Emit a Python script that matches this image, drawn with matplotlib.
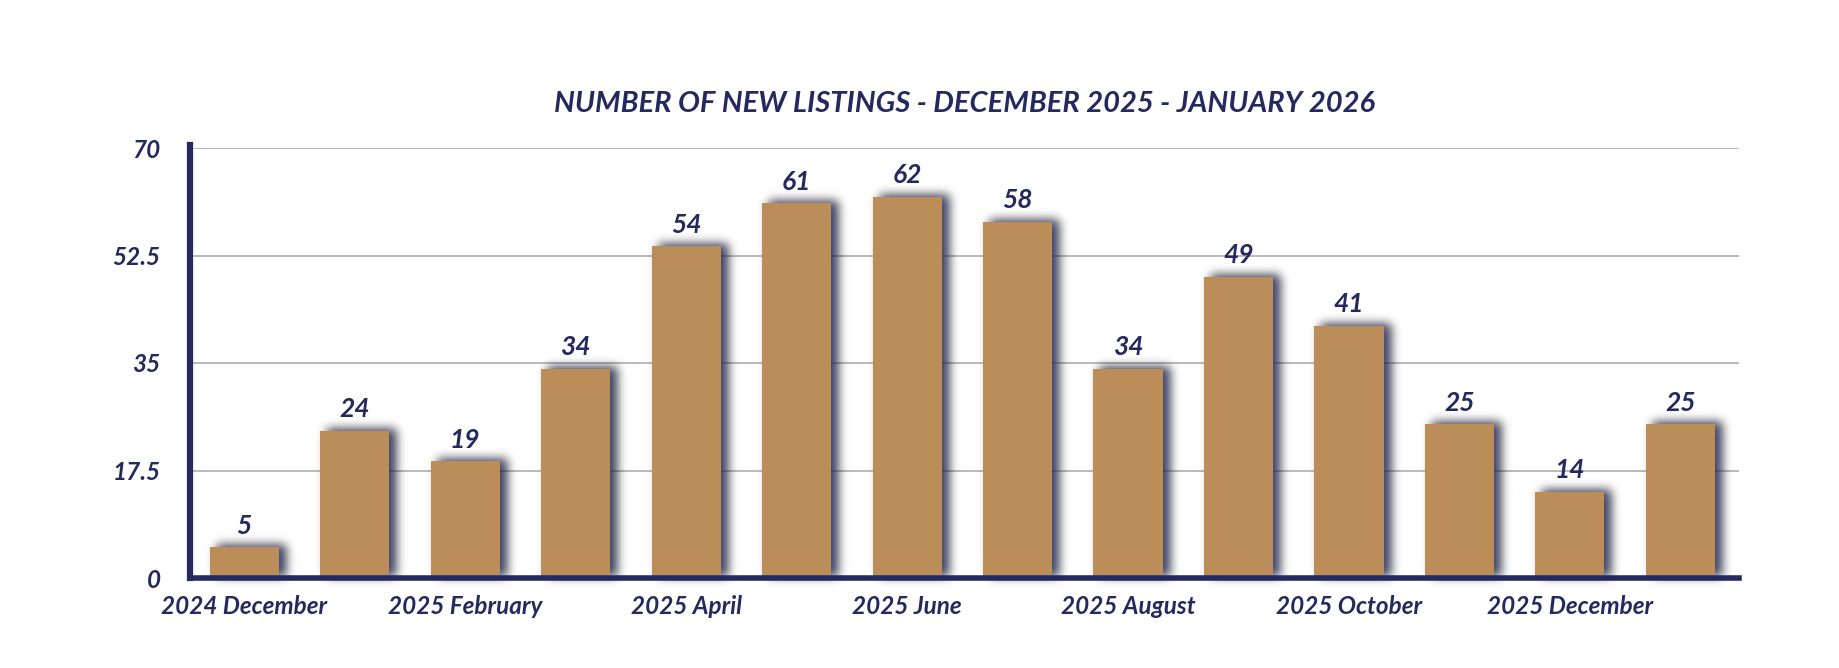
import numpy as np
import matplotlib
matplotlib.use("Agg")
import matplotlib.pyplot as plt

# data
months = ["2024 December", "2025 January", "2025 February", "2025 March",
          "2025 April", "2025 May", "2025 June", "2025 July", "2025 August",
          "2025 September", "2025 October", "2025 November", "2025 December",
          "2026 January"]
new_listings = [5, 24, 19, 34, 54, 61, 62, 58, 34, 49, 41, 25, 14, 25]
y_ticks = [0, 17.5, 35, 52.5, 70]
y_tick_labels = ["0", "17.5", "35", "52.5", "70"]

NAVY = "#252a5e"
GOLD = "#bb8e59"
GRID = "#b4b4b4"
FONT = dict(family="Lato", weight="bold", style="italic", color=NAVY)


def gauss_kernel(sigma):
    r = int(3 * sigma)
    x = np.arange(-r, r + 1)
    k = np.exp(-0.5 * (x / sigma) ** 2)
    return k / k.sum()


def shadow_filter(im, dpi, sigma=5.0, ox=7, oy=2):
    """blur the rendered shadow bars and shift them a bit right/up"""
    pad = int(3 * sigma) + 2
    out = np.pad(im, ((pad, pad), (pad, pad), (0, 0)))
    k = gauss_kernel(sigma)
    # separable blur, rows then columns
    out = np.apply_along_axis(lambda v: np.convolve(v, k, mode="same"), 0, out)
    out = np.apply_along_axis(lambda v: np.convolve(v, k, mode="same"), 1, out)
    return out, -pad + ox, -pad + oy


fig = plt.figure(figsize=(18.4, 6.68), dpi=100)
ax = fig.add_axes([190 / 1840, 1 - 578 / 668, (1739 - 190) / 1840, (578 - 148) / 668])

x = np.arange(len(months))
bar_w = 0.625

# blurred navy shadows behind each bar
shadows = ax.bar(x, new_listings, width=bar_w, color=NAVY, alpha=0.9, zorder=1)
for p in shadows:
    p.set_agg_filter(shadow_filter)
    p.set_rasterized(True)

ax.bar(x, new_listings, width=bar_w, color=GOLD, zorder=2)

for xi, v in zip(x, new_listings):
    ax.annotate(str(v), (xi, v), textcoords="offset points", xytext=(0, 7),
                ha="center", va="bottom", fontsize=19, **FONT)

ax.set_xlim(-0.49, len(months) - 1 + 0.53)
ax.set_ylim(0, 70)
ax.set_yticks(y_ticks)
ax.set_yticklabels(y_tick_labels)
ax.set_xticks(x[::2])
ax.set_xticklabels(months[::2])
for lbl in ax.get_xticklabels() + ax.get_yticklabels():
    lbl.set_fontfamily("Lato")
    lbl.set_fontweight("bold")
    lbl.set_fontstyle("italic")
    lbl.set_color(NAVY)
    lbl.set_fontsize(17.5)
ax.tick_params(axis="both", length=0)
ax.tick_params(axis="y", pad=21)
ax.tick_params(axis="x", pad=12)

ax.yaxis.grid(True, color=GRID, linewidth=1.3, zorder=0.5)
ax.set_axisbelow(True)
for side in ["top", "right"]:
    ax.spines[side].set_visible(False)
ax.spines["left"].set_color(NAVY)
ax.spines["left"].set_linewidth(4.5)
ax.spines["bottom"].set_color(NAVY)
ax.spines["bottom"].set_linewidth(4)
ax.spines["left"].set_bounds(0, 70.5)

ax.set_title("NUMBER OF NEW LISTINGS - DECEMBER 2025 - JANUARY 2026",
             fontsize=21, pad=26, **FONT)

fig.savefig("out.png", dpi=100, facecolor="white")
